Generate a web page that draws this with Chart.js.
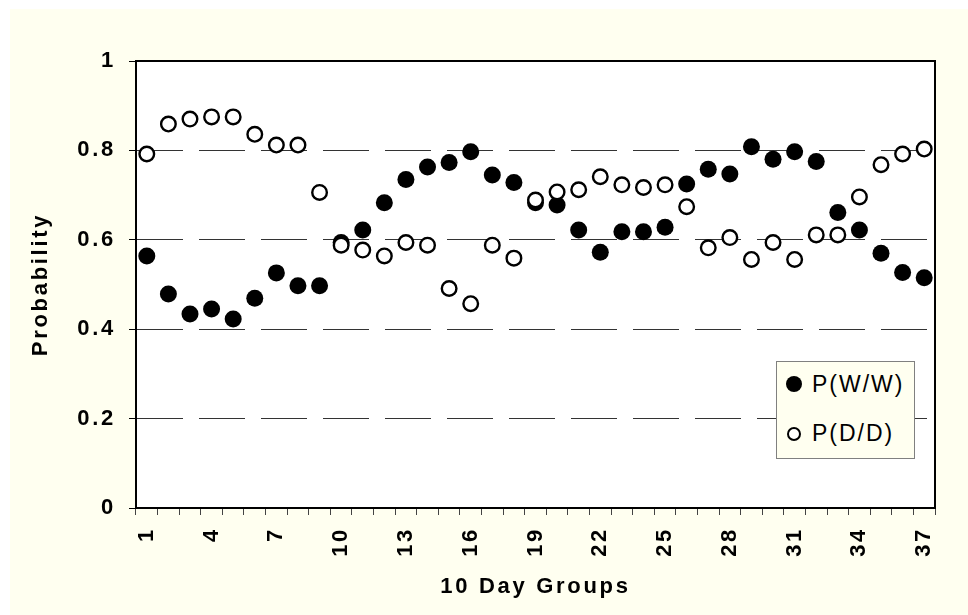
<!DOCTYPE html>
<html>
<head>
<meta charset="utf-8">
<script src="https://cdn.jsdelivr.net/npm/chart.js@4.4.1/dist/chart.umd.min.js"></script>
<style>
  html, body { margin: 0; padding: 0; background: #ffffff; width: 968px; height: 615px; overflow: hidden; }
  #wrap { position: absolute; left: 10px; top: 9px; width: 958px; height: 606px; background: #FFFFF0; }
  #c { display: block; }
  #legend { position: absolute; left: 776px; top: 361px; width: 139px; height: 98px;
            border: 1px solid #808080; background: #FFFFF0; box-sizing: border-box;
            font-family: Arial, "Liberation Sans", sans-serif; font-size: 23px; letter-spacing: 2px; color: #000; }
  .item { position: absolute; left: 0; width: 100%; height: 28px; line-height: 28px; }
  .sym { position: absolute; border-radius: 50%; box-sizing: border-box; }
  .lab { position: absolute; left: 35px; top: 0; white-space: nowrap; }
</style>
</head>
<body>
<div id="wrap"><canvas id="c" width="958" height="606"></canvas></div>
<div id="legend">
  <div class="item" style="top:8px"><span class="sym" style="left:9px;top:6px;width:16px;height:16px;background:#000;"></span><span class="lab" id="l0"></span></div>
  <div class="item" style="top:57px"><span class="sym" style="left:10px;top:8px;width:14px;height:14px;background:#fff;border:2px solid #000;"></span><span class="lab" id="l1"></span></div>
</div>
<script>
const categories = Array.from({length: 37}, (_, i) => String(i + 1));
const xTickLabels = ['1','4','7','10','13','16','19','22','25','28','31','34','37'];
const yTicks = [0, 0.2, 0.4, 0.6, 0.8, 1];
const seriesNames = ['P(W/W)', 'P(D/D)'];
const pWW = [0.564,0.479,0.434,0.445,0.423,0.469,0.526,0.497,0.497,0.594,
             0.622,0.683,0.735,0.763,0.773,0.797,0.745,0.728,0.683,0.678,
             0.622,0.572,0.618,0.618,0.628,0.725,0.758,0.747,0.808,0.780,
             0.797,0.775,0.661,0.622,0.570,0.527,0.515];
const pDD = [0.792,0.859,0.870,0.875,0.875,0.836,0.812,0.812,0.706,0.588,
             0.577,0.564,0.594,0.588,0.491,0.457,0.588,0.559,0.689,0.707,
             0.712,0.741,0.723,0.717,0.723,0.674,0.582,0.605,0.556,0.594,
             0.556,0.611,0.611,0.696,0.768,0.792,0.803];
const xTitle = '10 Day Groups';
const yTitle = 'Probability';

document.getElementById('l0').textContent = seriesNames[0];
document.getElementById('l1').textContent = seriesNames[1];

const FONT = 'Arial, "Liberation Sans", sans-serif';

const plotFrame = {
  id: 'plotFrame',
  beforeDraw(chart) {
    const ctx = chart.ctx;
    ctx.letterSpacing = '2.7px';
    const a = chart.chartArea;
    ctx.save();
    ctx.fillStyle = '#ffffff';
    ctx.fillRect(a.left, a.top, a.right - a.left, a.bottom - a.top);
    ctx.restore();
  },
  beforeDatasetsDraw(chart) {
    const ctx = chart.ctx;
    const a = chart.chartArea;
    ctx.save();
    ctx.strokeStyle = '#000';
    ctx.lineWidth = 2;
    ctx.setLineDash([]);
    ctx.strokeRect(a.left, a.top, a.right - a.left, a.bottom - a.top);
    ctx.restore();
  }
};

new Chart(document.getElementById('c'), {
  type: 'line',
  data: {
    labels: categories,
    datasets: [
      { label: seriesNames[0], data: pWW, showLine: false, order: 2,
        pointRadius: 8.5, pointHoverRadius: 8.5, pointBackgroundColor: '#000', pointBorderColor: '#000', pointBorderWidth: 0 },
      { label: seriesNames[1], data: pDD, showLine: false, order: 1,
        pointRadius: 7.3, pointHoverRadius: 7.3, pointBackgroundColor: '#fff', pointBorderColor: '#000', pointBorderWidth: 2.4 }
    ]
  },
  options: {
    responsive: false,
    animation: false,
    devicePixelRatio: 1,
    events: [],
    layout: { padding: { left: 0, top: 52, right: 33, bottom: 0 } },
    plugins: { legend: { display: false }, tooltip: { enabled: false } },
    scales: {
      x: {
        offset: true,
        afterFit(s) { s.height = 107; },
        grid: { offset: true, drawOnChartArea: false, drawTicks: true, tickLength: 7, tickColor: '#444', tickWidth: 1 },
        border: { display: true, color: '#000', width: 2 },
        ticks: {
          autoSkip: false, minRotation: 90, maxRotation: 90, padding: 12,
          color: '#000', font: { family: FONT, size: 22, weight: 'bold' },
          callback(v, i) { const l = categories[i]; return xTickLabels.includes(l) ? l : ''; }
        },
        title: { display: true, text: xTitle, color: '#000', padding: { top: 0, bottom: 15 },
                 font: { family: FONT, size: 22, weight: 'bold' } }
      },
      y: {
        min: 0, max: 1,
        afterFit(s) { s.width = 126; },
        afterBuildTicks(s) { s.ticks = yTicks.map(v => ({ value: v })); },
        grid: {
          color: c => (c.tick && (c.tick.value === 0 || c.tick.value === 1)) ? 'rgba(0,0,0,0)' : '#333',
          lineWidth: 1, tickLength: 7, tickColor: '#000', tickWidth: 1, tickBorderDash: [], tickBorderDashOffset: 0
        },
        border: { display: true, color: '#000', width: 2, dash: [46, 16], dashOffset: 0 },
        ticks: { padding: 13, color: '#000', font: { family: FONT, size: 22, weight: 'bold' },
                 callback(v) { return String(v); } },
        title: { display: true, text: yTitle, color: '#000', padding: { top: 18, bottom: 0 },
                 font: { family: FONT, size: 22, weight: 'bold' } }
      }
    }
  },
  plugins: [plotFrame]
});
</script>
</body>
</html>
